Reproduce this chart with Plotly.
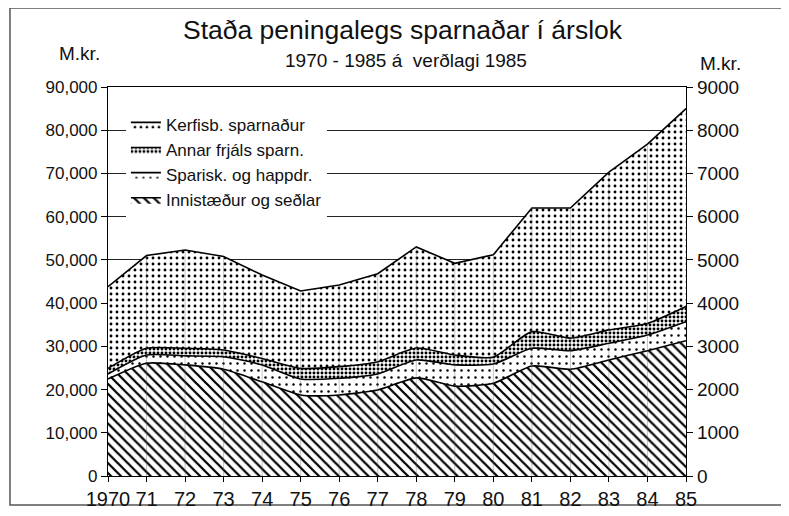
import plotly.graph_objects as go

years = list(range(1970, 1986))
year_labels = ["1970", "71", "72", "73", "74", "75", "76", "77", "78", "79", "80", "81", "82", "83", "84", "85"]

# M.kr. (level of each layer)
innistaedur = [22450, 26100, 25700, 24700, 21800, 18750, 18750, 19900, 22700, 20800, 21450, 25450, 24700, 26850, 29000, 31300]
sparisk = [1150, 1900, 2100, 2900, 3900, 3700, 3850, 3700, 4150, 4900, 4450, 4100, 4300, 3850, 3600, 4400]
annar = [1300, 1550, 1750, 1550, 1500, 2450, 2700, 2850, 2750, 2300, 1600, 3850, 2900, 3100, 2700, 3500]
kerfisb = [18900, 21450, 22750, 21650, 19300, 17900, 18900, 20350, 23400, 21200, 23700, 28600, 30100, 36500, 41500, 45800]

left_ticks = [0, 10000, 20000, 30000, 40000, 50000, 60000, 70000, 80000, 90000]
left_tick_text = ["0", "10,000", "20,000", "30,000", "40,000", "50,000", "60,000", "70,000", "80,000", "90,000"]
right_ticks = [0, 1000, 2000, 3000, 4000, 5000, 6000, 7000, 8000, 9000]
right_tick_text = ["0", "1000", "2000", "3000", "4000", "5000", "6000", "7000", "8000", "9000"]

FONT = "Liberation Sans, Arial, Helvetica, sans-serif"

fig = go.Figure()

series = [
    ("Innistæður og seðlar", innistaedur, dict(shape="\\", size=7, solidity=0.32), "spline"),
    ("Sparisk. og happdr.", sparisk, dict(shape=".", size=7, solidity=0.1), "spline"),
    ("Annar frjáls sparn.", annar, dict(shape=".", size=4, solidity=0.42), "spline"),
    ("Kerfisb. sparnaður", kerfisb, dict(shape=".", size=6, solidity=0.18), "linear"),
]
for name, vals, pat, shape in series:
    fig.add_trace(go.Scatter(
        x=years, y=vals, name=name, stackgroup="one", mode="lines",
        line=dict(color="black", width=1.6, shape=shape, smoothing=0.6),
        fillpattern=dict(fgcolor="black", bgcolor="white", fillmode="replace", **pat),
        hoverinfo="skip",
    ))

# faint vertical year lines inside the shaded area
totals = [a + b + c + d for a, b, c, d in zip(innistaedur, sparisk, annar, kerfisb)]
vx, vy = [], []
for yr, t in zip(years[1:-1], totals[1:-1]):
    vx += [yr, yr, None]
    vy += [0, t, None]
fig.add_trace(go.Scatter(x=vx, y=vy, mode="lines", line=dict(color="rgba(90,90,90,0.45)", width=0.8),
                         showlegend=False, hoverinfo="skip"))

# right axis companion trace (invisible)
fig.add_trace(go.Scatter(x=years, y=[t / 10 for t in totals], yaxis="y2", mode="lines",
                         line=dict(width=0), opacity=0, showlegend=False, hoverinfo="skip"))

# the page body adds an 8px offset, so the figure is 8px smaller than the window
fig.update_layout(
    width=781, height=508, autosize=False,
    margin=dict(l=100, r=103, t=79, b=40),
    paper_bgcolor="white", plot_bgcolor="white",
    font=dict(family=FONT, color="#111", size=18),
    xaxis=dict(range=[1970, 1985], tickvals=years, ticktext=year_labels, ticks="outside", ticklen=5,
               tickcolor="black", showline=True, linecolor="black", linewidth=1.2, mirror=True,
               showgrid=False, zeroline=False, tickangle=0, automargin=False,
               tickfont=dict(size=20, family=FONT)),
    yaxis=dict(range=[0, 90000], tickvals=left_ticks, ticktext=left_tick_text, ticks="outside", ticklen=6,
               tickcolor="black", showline=True, linecolor="black", linewidth=1.2, automargin=False,
               showgrid=True, gridcolor="#222", gridwidth=1, zeroline=False,
               tickfont=dict(size=17, family=FONT)),
    yaxis2=dict(range=[0, 9000], overlaying="y", side="right", tickvals=right_ticks, ticktext=right_tick_text,
                ticks="outside", ticklen=6, tickcolor="black", showline=True, linecolor="black", linewidth=1.2,
                showgrid=False, zeroline=False, automargin=False, tickfont=dict(size=19, family=FONT)),
    legend=dict(x=0.031, y=0.949, xanchor="left", yanchor="top", traceorder="reversed",
                bgcolor="white", borderwidth=0, font=dict(size=17, family=FONT),
                itemwidth=30, tracegroupgap=0),
    showlegend=True,
)

fig.add_annotation(text="Staða peningalegs sparnaðar í árslok", xref="paper", yref="paper",
                   x=0.51, y=1.147, xanchor="center", yanchor="middle", showarrow=False,
                   font=dict(size=26.5, family=FONT))
fig.add_annotation(text="1970 - 1985 á  verðlagi 1985", xref="paper", yref="paper",
                   x=0.515, y=1.068, xanchor="center", yanchor="middle", showarrow=False,
                   font=dict(size=19, family=FONT))
fig.add_annotation(text="M.kr.", xref="paper", yref="paper", x=-0.05, y=1.085,
                   xanchor="center", yanchor="middle", showarrow=False, font=dict(size=19, family=FONT))
fig.add_annotation(text="M.kr.", xref="paper", yref="paper", x=1.059, y=1.06,
                   xanchor="center", yanchor="middle", showarrow=False, font=dict(size=19, family=FONT))

# outer frame of the figure
fig.add_shape(type="rect", xref="paper", yref="paper", x0=-0.1696, x1=1.18, y0=-0.0746, y1=1.203,
              line=dict(color="#555", width=1.5), layer="below")

fig.write_html("out.html")
